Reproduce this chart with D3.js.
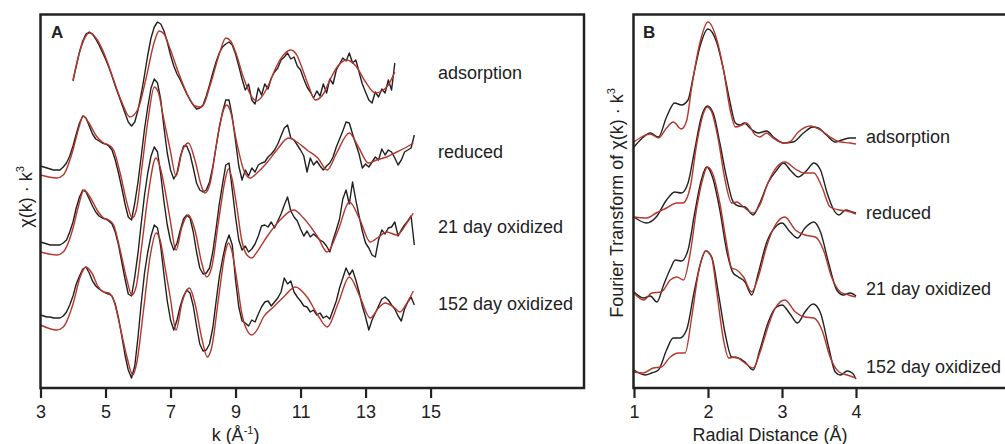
<!DOCTYPE html>
<html>
<head>
<meta charset="utf-8">
<script src="https://cdn.jsdelivr.net/npm/d3@7"></script>
<style>
	body { margin: 0; background: #fff; }
	svg text { font-family: "Liberation Sans", Arial, Helvetica, sans-serif; fill: #222; }
</style>
</head>
<body>
<svg id="chart" width="1005" height="444"></svg>
<script>

	var sampleNames = ["adsorption", "reduced", "21 day oxidized", "152 day oxidized"];
	var kTicks = [3, 5, 7, 9, 11, 13, 15];
	var rTicks = [1, 2, 3, 4];

	// vertical offsets for the stacked spectra (arbitrary units)
	var offsetsA = [308, 228, 153, 78];
	var offsetsB = [245, 173, 95, 18];

	// panel A, measured chi(k)*k^3, sampled every 0.1 from kStart
	var kStart = [4.0, 3.0, 3.0, 3.0];
	var kStep = 0.1;

	var chiAdsorption = [
		-1, 14, 28, 39, 46, 48, 46, 41, 35, 28,
		21, 13, 4, -6, -15, -24, -33, -42, -46, -42,
		-30, -14, 5, 25, 42, 53, 58, 56, 49, 38,
		25, 14, 6, 0, -7, -14, -20, -25, -29, -28,
		-25, -16, -5, 7, 18, 27, 33, 36, 38, 35,
		26, 14, 1, -10, -4, -20, -24, -8, -15, -4,
		-9, 2, 8, 12, 20, 23, 27, 21, 23, 14,
		10, 1, -7, -12, -18, -11, -16, -4, -13, 1,
		-4, 10, 16, 22, 19, 27, 17, 20, 8, -4,
		-12, -20, -23, -12, -17, -9, -13, 0, -10, 17
	];
	var chiReduced = [
		-6, -7, -8, -9, -10, -10, -10, -7, -3, 4,
		14, 26, 37, 44, 42, 34, 26, 21, 19, 17,
		16, 14, 10, 0, -13, -28, -44, -57, -60, -43,
		-22, 4, 31, 53, 72, 81, 77, 60, 32, 7,
		-10, -19, -13, 3, 14, 14, 6, -8, -23, -30,
		-32, -30, -22, -7, 13, 33, 48, 60, 60, 43,
		19, -6, -20, -10, -16, -8, -12, -5, -3, -2,
		3, 6, 10, 16, 24, 32, 35, 22, 20, 15,
		10, 4, -12, 2, -5, -1, -6, -10, -6, -3,
		3, 13, 21, 29, 38, 37, 26, 16, 6, -8,
		-4, -7, -2, 3, 0, 11, 5, 10, 8, 2,
		-5, 0, 8, 10, 12, 25
	];
	var chi21Day = [
		-7, -8, -9, -10, -10, -10, -10, -8, -5, 3,
		13, 27, 38, 45, 43, 36, 29, 23, 19, 17,
		16, 14, 11, 3, -10, -27, -44, -59, -61, -42,
		-18, 12, 40, 62, 79, 88, 83, 60, 33, 10,
		-6, -15, -8, 5, 16, 20, 17, 3, -17, -33,
		-39, -38, -33, -17, 6, 31, 51, 70, 72, 45,
		18, -5, -15, -11, -17, -14, -9, -1, 9, 10,
		8, 13, 7, 14, 21, 30, 38, 24, 18, 14,
		6, -1, 4, -2, 1, -2, -5, -7, -11, -17,
		-5, 5, 16, 36, 45, 31, 53, 35, 19, 4,
		-8, -13, -20, -22, -5, 5, 1, 7, 8, 13,
		-1, 5, 10, 14, 19, -10
	];
	var chi152Day = [
		-5, -6, -7, -7, -8, -8, -8, -6, -2, 5,
		14, 26, 34, 41, 43, 37, 29, 24, 21, 19,
		17, 16, 14, 6, -8, -26, -45, -60, -68, -56,
		-27, 7, 37, 58, 74, 85, 82, 63, 35, 9,
		-10, -20, -10, 4, 14, 20, 17, 4, -16, -34,
		-41, -40, -34, -18, 8, 33, 51, 66, 75, 65,
		30, 3, -11, -13, -16, -10, -12, -4, 3, 8,
		9, 4, 8, 12, 18, 32, 26, 29, 18, 13,
		9, 4, 3, -2, 0, -5, -3, -8, -6, -9,
		0, 9, 22, 32, 42, 35, 40, 30, 18, 4,
		-7, -20, -10, -3, 4, 11, 13, 10, 5, 1,
		-6, -11, 1, 8, 13, 5
	];

	// panel A, fits as [k, value]
	var fitAdsorption = [[4.0, 0], [4.25, 33], [4.5, 47], [4.75, 40], [5.0, 23], [5.25, 0], [5.5, -22], [5.75, -37], [6.0, -29], [6.25, 2], [6.5, 38], [6.65, 49], [6.8, 46], [7.0, 30], [7.25, 7], [7.5, -13], [7.75, -26], [7.95, -27], [8.25, -2], [8.5, 26], [8.7, 42], [8.85, 39], [9.0, 28], [9.25, 2], [9.5, -17], [9.65, -21], [9.8, -17], [10.0, -6], [10.25, 13], [10.5, 26], [10.7, 30], [10.9, 24], [11.0, 16], [11.25, -6], [11.45, -20], [11.7, -14], [11.9, 0], [12.15, 14], [12.42, 20], [12.7, 14], [13.0, -2], [13.3, -13], [13.5, -11], [13.7, -5], [13.9, 8]];
	var fitReduced = [[3.0, -15], [3.5, -18], [3.7, -15], [4.0, 10], [4.16, 30], [4.32, 44], [4.47, 38], [4.74, 23], [4.94, 17], [5.1, 15], [5.25, 10], [5.45, -13], [5.66, -43], [5.82, -58], [5.95, -50], [6.11, -10], [6.32, 43], [6.5, 73], [6.63, 67], [6.78, 43], [6.99, 10], [7.17, -16], [7.35, 8], [7.55, 17], [7.75, 0], [7.96, -27], [8.06, -33], [8.22, -23], [8.42, 17], [8.63, 50], [8.73, 55], [8.83, 50], [9.04, 17], [9.25, -10], [9.45, -18], [9.66, -13], [9.96, -3], [10.27, 10], [10.63, 22], [10.89, 18], [11.2, 10], [11.53, 2], [11.82, -10], [12.11, 7], [12.5, 27], [12.78, 13], [13.09, -3], [13.34, 0], [13.65, 3], [13.96, 8], [14.27, 13], [14.47, 17]];
	var fit21Day = [[3.0, -17], [3.5, -20], [3.7, -17], [4.01, 8], [4.16, 28], [4.34, 45], [4.52, 38], [4.78, 23], [4.94, 17], [5.1, 15], [5.25, 10], [5.45, -15], [5.66, -45], [5.81, -60], [5.94, -52], [6.11, -12], [6.32, 42], [6.55, 77], [6.68, 68], [6.83, 45], [6.99, 15], [7.17, -15], [7.35, 8], [7.55, 20], [7.75, 5], [7.96, -28], [8.11, -42], [8.27, -32], [8.47, 12], [8.68, 55], [8.78, 66], [8.88, 58], [9.04, 28], [9.19, -5], [9.35, -20], [9.5, -23], [9.66, -17], [9.96, -2], [10.37, 15], [10.79, 25], [11.09, 17], [11.53, -2], [11.82, -17], [12.16, 5], [12.5, 33], [12.83, 15], [13.14, -7], [13.4, -2], [13.65, 3], [13.96, 0], [14.27, 12], [14.47, 22]];
	var fit152Day = [[3.0, -15], [3.5, -20], [3.7, -17], [4.01, 7], [4.22, 33], [4.4, 43], [4.58, 37], [4.78, 23], [4.94, 18], [5.1, 17], [5.25, 10], [5.45, -17], [5.66, -47], [5.84, -65], [5.96, -53], [6.17, 0], [6.37, 53], [6.56, 77], [6.68, 70], [6.83, 43], [6.99, 13], [7.17, -20], [7.35, 7], [7.58, 22], [7.75, 7], [7.96, -28], [8.13, -47], [8.27, -37], [8.47, 10], [8.68, 57], [8.78, 67], [8.88, 60], [9.04, 30], [9.19, -3], [9.35, -20], [9.5, -25], [9.66, -20], [9.86, -7], [10.17, 3], [10.48, 13], [10.84, 23], [11.2, 13], [11.53, -5], [11.82, -17], [12.16, 7], [12.5, 33], [12.83, 13], [13.14, -8], [13.4, 2], [13.6, 7], [13.86, 3], [14.06, -2], [14.27, 7], [14.47, 19]];

	// panel B, Fourier transform magnitude as [R, value]
	var ftAdsorption = [[1.0, -4], [1.1, 4], [1.22, 10], [1.33, 6], [1.44, 26], [1.55, 40], [1.64, 38], [1.73, 43], [1.8, 66], [1.89, 96], [2.0, 114], [2.12, 100], [2.21, 73], [2.3, 40], [2.37, 20], [2.43, 18], [2.49, 20], [2.58, 14], [2.68, 10], [2.79, 12], [2.9, 5], [3.02, 0], [3.15, 1], [3.29, 10], [3.42, 16], [3.49, 15], [3.6, 8], [3.72, 1], [3.81, 3], [3.92, 5], [4.0, 5]];
	var ftReduced = [[1.0, -2], [1.17, -8], [1.3, -2], [1.44, 15], [1.55, 23], [1.64, 22], [1.73, 32], [1.82, 65], [1.91, 98], [1.99, 109], [2.07, 102], [2.16, 72], [2.25, 38], [2.34, 13], [2.41, 9], [2.5, 8], [2.61, 0], [2.7, 12], [2.81, 32], [2.93, 45], [3.02, 52], [3.11, 45], [3.22, 38], [3.34, 45], [3.43, 52], [3.52, 45], [3.61, 22], [3.7, 5], [3.77, 0], [3.86, 5], [3.95, 3], [4.0, 2]];
	var ft21Day = [[1.0, 1], [1.13, -5], [1.22, -3], [1.31, -9], [1.4, 8], [1.49, 24], [1.56, 33], [1.64, 32], [1.73, 43], [1.82, 80], [1.91, 113], [1.98, 126], [2.06, 116], [2.16, 83], [2.25, 43], [2.34, 20], [2.41, 16], [2.5, 11], [2.59, -2], [2.68, 20], [2.79, 50], [2.91, 66], [3.0, 70], [3.11, 61], [3.21, 55], [3.31, 65], [3.43, 71], [3.52, 61], [3.63, 30], [3.74, 3], [3.83, -2], [3.92, 0], [4.0, -3]];
	var ft152Day = [[1.0, 0], [1.15, -5], [1.24, -3], [1.33, 0], [1.44, 20], [1.53, 32], [1.62, 32], [1.71, 40], [1.81, 77], [1.9, 107], [1.97, 119], [2.05, 113], [2.14, 77], [2.23, 37], [2.32, 13], [2.41, 12], [2.5, 8], [2.61, 0], [2.7, 20], [2.81, 47], [2.91, 62], [3.0, 65], [3.11, 56], [3.21, 47], [3.31, 58], [3.42, 66], [3.52, 57], [3.63, 23], [3.72, -2], [3.79, -5], [3.88, -1], [3.95, -3], [4.0, -9]];

	var ftFitAdsorption = [[1.0, 1], [1.1, 6], [1.22, 9], [1.33, 5], [1.44, 15], [1.53, 21], [1.64, 14], [1.71, 22], [1.78, 56], [1.89, 100], [2.0, 121], [2.12, 103], [2.21, 73], [2.3, 33], [2.37, 16], [2.46, 18], [2.52, 20], [2.64, 8], [2.7, 6], [2.79, 10], [2.88, 5], [3.02, 0], [3.1, 1], [3.22, 11], [3.38, 17], [3.52, 13], [3.65, 6], [3.79, 1], [3.92, 0], [4.0, -1]];
	var ftFitReduced = [[1.0, -2], [1.17, -3], [1.3, 2], [1.44, 7], [1.58, 12], [1.66, 12], [1.76, 28], [1.85, 72], [1.94, 102], [1.99, 108], [2.05, 103], [2.14, 75], [2.23, 35], [2.32, 12], [2.39, 13], [2.48, 8], [2.61, 2], [2.7, 10], [2.81, 32], [2.93, 48], [3.04, 53], [3.18, 46], [3.31, 42], [3.43, 42], [3.54, 28], [3.65, 8], [3.77, 5], [3.88, 4], [4.0, 1]];
	var ftFit21Day = [[1.0, 0], [1.13, -7], [1.24, 0], [1.37, 1], [1.49, 13], [1.58, 16], [1.67, 13], [1.76, 40], [1.85, 86], [1.94, 117], [1.99, 126], [2.06, 120], [2.16, 90], [2.25, 50], [2.32, 25], [2.39, 23], [2.48, 16], [2.59, 1], [2.68, 16], [2.79, 46], [2.91, 68], [3.04, 76], [3.18, 63], [3.31, 58], [3.45, 56], [3.56, 43], [3.67, 16], [3.79, 1], [3.9, -2], [4.0, -4]];
	var ftFit152Day = [[1.0, -2], [1.13, -3], [1.26, 2], [1.37, 3], [1.49, 13], [1.6, 17], [1.69, 17], [1.78, 53], [1.87, 97], [1.97, 119], [2.05, 112], [2.12, 77], [2.21, 30], [2.28, 12], [2.37, 13], [2.48, 8], [2.61, 2], [2.7, 17], [2.81, 43], [2.91, 62], [3.04, 70], [3.18, 58], [3.31, 53], [3.43, 52], [3.54, 40], [3.65, 13], [3.77, -2], [3.88, -5], [4.0, -8]];

	var dataColor = "#231f20";
	var fitColor = "#b5372c";

	var svg = d3.select("#chart");

	var kScale = d3.scaleLinear().domain([3, 19.72]).range([40.5, 584]);
	var rScale = d3.scaleLinear().domain([1, 4]).range([634, 856]);
	var yScale = d3.scaleLinear().domain([0, 373.5]).range([388, 14.5]);

	var chiSeries = [chiAdsorption, chiReduced, chi21Day, chi152Day];
	var fitSeries = [fitAdsorption, fitReduced, fit21Day, fit152Day];
	var ftSeries = [ftAdsorption, ftReduced, ft21Day, ft152Day];
	var ftFitSeries = [ftFitAdsorption, ftFitReduced, ftFit21Day, ftFit152Day];

	// ---- panel A ----
	var lineA = d3.line()
		.x(function(d) { return kScale(d[0]); })
		.y(function(d) { return yScale(d[1]); });

	var gA = svg.append("g").classed("panel-a", true);

	chiSeries.forEach(function(values, s) {
		var pts = values.map(function(v, i) { return [kStart[s] + i * kStep, v + offsetsA[s]]; });
		gA.append("path")
			.attr("d", lineA.curve(d3.curveLinear)(pts))
			.attr("fill", "none")
			.attr("stroke", dataColor)
			.attr("stroke-width", 1.4)
			.attr("stroke-linejoin", "round");
	});

	fitSeries.forEach(function(values, s) {
		var pts = values.map(function(d) { return [d[0], d[1] + offsetsA[s]]; });
		gA.append("path")
			.attr("d", lineA.curve(d3.curveMonotoneX)(pts))
			.attr("fill", "none")
			.attr("stroke", fitColor)
			.attr("stroke-width", 1.4);
	});

	gA.append("rect")
		.attr("x", 40.5)
		.attr("y", 14.5)
		.attr("width", 543.5)
		.attr("height", 373.5)
		.attr("fill", "none")
		.attr("stroke", "#222")
		.attr("stroke-width", 2.5);

	var axisA = gA.append("g")
		.attr("transform", "translate(0,388)")
		.call(d3.axisBottom(kScale).tickValues(kTicks).tickFormat(d3.format("d")).tickSize(10).tickPadding(7.5));
	axisA.select(".domain").remove();
	axisA.selectAll(".tick line").attr("stroke", "#222").attr("stroke-width", 2.2);
	axisA.selectAll(".tick text").attr("font-size", 18).attr("font-family", null).attr("fill", "#222");

	gA.append("text")
		.attr("x", 51)
		.attr("y", 38)
		.attr("font-size", 17)
		.attr("font-weight", "bold")
		.text("A");

	var labelYA = [79, 158, 233, 309.5];
	sampleNames.forEach(function(name, i) {
		gA.append("text")
			.attr("x", 438)
			.attr("y", labelYA[i])
			.attr("font-size", 18)
			.text(name);
	});

	var kTitle = gA.append("text")
		.attr("x", kScale(9))
		.attr("y", 441)
		.attr("text-anchor", "middle")
		.attr("font-size", 18);
	kTitle.append("tspan").text("k (Å");
	kTitle.append("tspan").attr("font-size", 11).attr("dy", -7).text("-1");
	kTitle.append("tspan").attr("dy", 7).text(")");

	var yTitleA = gA.append("text")
		.attr("transform", "translate(32,197) rotate(-90)")
		.attr("text-anchor", "middle")
		.attr("font-size", 18);
	yTitleA.append("tspan").text("χ(k) · k");
	yTitleA.append("tspan").attr("font-size", 11).attr("dy", -8).text("3");

	// ---- panel B ----
	var lineB = d3.line()
		.x(function(d) { return rScale(d[0]); })
		.y(function(d) { return yScale(d[1]); })
		.curve(d3.curveMonotoneX);

	var gB = svg.append("g").classed("panel-b", true);

	ftSeries.forEach(function(values, s) {
		var pts = values.map(function(d) { return [d[0], d[1] + offsetsB[s]]; });
		gB.append("path")
			.attr("d", lineB(pts))
			.attr("fill", "none")
			.attr("stroke", dataColor)
			.attr("stroke-width", 1.4);
	});

	ftFitSeries.forEach(function(values, s) {
		var pts = values.map(function(d) { return [d[0], d[1] + offsetsB[s]]; });
		gB.append("path")
			.attr("d", lineB(pts))
			.attr("fill", "none")
			.attr("stroke", fitColor)
			.attr("stroke-width", 1.4);
	});

	// frame runs off the right edge of the picture
	gB.append("path")
		.attr("d", "M1012,14.5 H633.5 V388 H1012")
		.attr("fill", "none")
		.attr("stroke", "#222")
		.attr("stroke-width", 2.5);

	var axisB = gB.append("g")
		.attr("transform", "translate(0,388)")
		.call(d3.axisBottom(rScale).tickValues(rTicks).tickFormat(d3.format("d")).tickSize(10).tickPadding(7.5));
	axisB.select(".domain").remove();
	axisB.selectAll(".tick line").attr("stroke", "#222").attr("stroke-width", 2.2);
	axisB.selectAll(".tick text").attr("font-size", 18).attr("font-family", null).attr("fill", "#222");

	gB.append("text")
		.attr("x", 643)
		.attr("y", 38)
		.attr("font-size", 17)
		.attr("font-weight", "bold")
		.text("B");

	var labelYB = [143, 219, 295, 373];
	sampleNames.forEach(function(name, i) {
		gB.append("text")
			.attr("x", 866)
			.attr("y", labelYB[i])
			.attr("font-size", 18)
			.text(name);
	});

	gB.append("text")
		.attr("x", 770)
		.attr("y", 441)
		.attr("text-anchor", "middle")
		.attr("font-size", 18)
		.text("Radial Distance (Å)");

	var yTitleB = gB.append("text")
		.attr("transform", "translate(623,203) rotate(-90)")
		.attr("text-anchor", "middle")
		.attr("font-size", 18);
	yTitleB.append("tspan").text("Fourier Transform of  χ(k) · k");
	yTitleB.append("tspan").attr("font-size", 11).attr("dy", -8).text("3");

</script>
</body>
</html>
